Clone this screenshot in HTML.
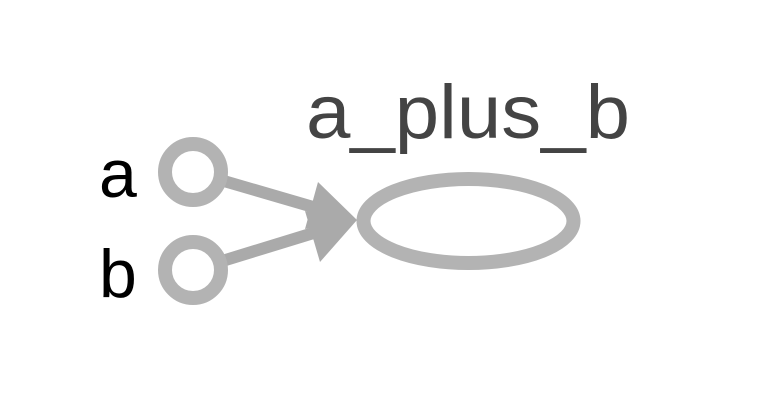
<!DOCTYPE html>
<html><head><style>html,body{margin:0;padding:0;background:#fff;width:757px;height:402px;overflow:hidden}</style></head>
<body>
<svg width="757" height="402" viewBox="0 0 757 402" xmlns="http://www.w3.org/2000/svg">
<rect width="757" height="402" fill="#fff"/>
<text x="306" y="138" font-family="Liberation Sans, sans-serif" font-size="76" fill="#444" textLength="324" lengthAdjust="spacingAndGlyphs">a_plus_b</text>
<text x="99" y="197" font-family="Liberation Sans, sans-serif" font-size="68" fill="#000">a</text>
<text x="99" y="297" font-family="Liberation Sans, sans-serif" font-size="68" fill="#000">b</text>
<line x1="193" y1="172" x2="320" y2="209" stroke="#aaa" stroke-width="12"/>
<line x1="193" y1="270" x2="320" y2="231" stroke="#aaa" stroke-width="12"/>
<polygon points="357,220 318,182 305,229" fill="#aaa"/>
<polygon points="357,220 305,211 320,262" fill="#aaa"/>
<circle cx="193" cy="172" r="28" fill="#fff" stroke="#b3b3b3" stroke-width="14"/>
<circle cx="193" cy="270" r="28" fill="#fff" stroke="#b3b3b3" stroke-width="14"/>
<ellipse cx="468.5" cy="221" rx="105" ry="42" fill="none" stroke="#b3b3b3" stroke-width="14"/>
</svg>
</body></html>
